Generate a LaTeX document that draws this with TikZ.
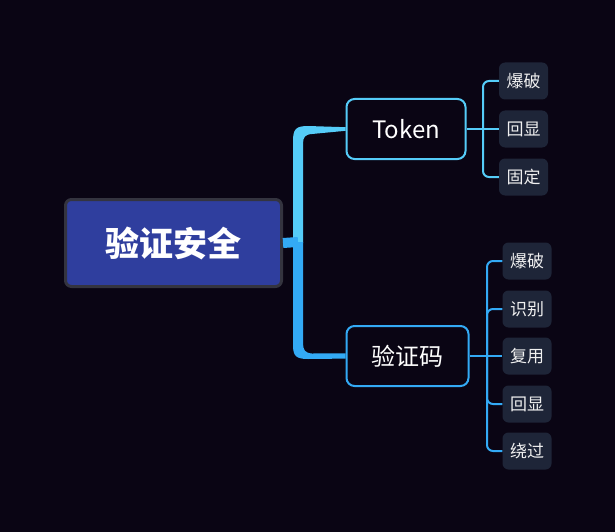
\documentclass[tikz,border=0pt]{standalone}
\usepackage{fontspec}
\setmainfont{Noto Sans CJK SC}
\usetikzlibrary{calc}
\definecolor{bg}{HTML}{0A0514}
\definecolor{rootfill}{HTML}{2F3E9E}
\definecolor{rootborder}{HTML}{34343F}
\definecolor{cyanA}{HTML}{55CCF8}
\definecolor{blueB}{HTML}{33AAF5}
\definecolor{leaffill}{HTML}{1E2538}
\begin{document}
\begin{tikzpicture}[x=1pt,y=-1pt,
  rootbox/.style={draw=rootborder,line width=3pt,fill=rootfill,rounded corners=6pt,
    minimum width=216pt,minimum height=87pt,inner sep=0pt,text=white,font=\fontsize{34}{38}\selectfont\bfseries},
  midbox/.style={line width=2pt,fill=bg,rounded corners=8pt,minimum height=60pt,inner sep=0pt,
    text=white,font=\fontsize{24}{28}\selectfont},
  leafbox/.style={fill=leaffill,rounded corners=6pt,minimum width=49pt,minimum height=37pt,inner sep=0pt,
    text=white!94!black,font=\fontsize{17}{20}\selectfont},
  twig/.style={line width=2pt,rounded corners=6pt}]
\fill[bg] (0,0) rectangle (615,532);
\useasboundingbox (0,0) rectangle (615,532);
% nodes
\node[rootbox] (root) at (173.5,243) {验证安全};
\node[midbox,draw=cyanA,minimum width=119pt] (tok) at (406,129) {Token};
\node[midbox,draw=blueB,minimum width=122pt] (cap) at (407.5,356) {验证码};
\node[leafbox] (t1) at (523.5,81) {爆破};
\node[leafbox] (t2) at (523.5,129) {回显};
\node[leafbox] (t3) at (523.5,177) {固定};
\node[leafbox] (c1) at (527,261) {爆破};
\node[leafbox] (c2) at (527,309) {识别};
\node[leafbox] (c3) at (527,356) {复用};
\node[leafbox] (c4) at (527,404) {回显};
\node[leafbox] (c5) at (527,451) {绕过};
% trunk
\coordinate (trunk) at (298,242);
\fill[cyanA] (293,243) -- (293,141) .. controls (293,129) and (296,126) .. (308,126)
  -- ($(tok.west)+(0,-1.8)$) -- ($(tok.west)+(0,1.8)$) -- (312,134)
  .. controls (305,134.5) and (303,137) .. (303,144) -- (303,243) -- cycle;
\fill[blueB] (293,242) -- (293,345) .. controls (293,356) and (296,359) .. (308,359)
  -- ($(cap.west)+(0,2.6)$) -- ($(cap.west)+(0,-2.6)$) -- (312,353.5)
  .. controls (305,353) and (303,350) .. (303,343) -- (303,242) -- cycle;
\draw[blueB,line width=10pt] (root.east) -- (trunk);
% token twigs
\coordinate (tb) at (483,129);
\draw[twig,cyanA] (tok.east) -- (tb);
\draw[twig,cyanA] (tb) |- (t1.west);
\draw[twig,cyanA] (tb) -- (t2.west);
\draw[twig,cyanA] (tb) |- (t3.west);
% captcha twigs
\coordinate (cb) at (487,356);
\draw[twig,blueB] (cap.east) -- (cb);
\draw[twig,blueB] (cb) |- (c1.west);
\draw[twig,blueB] (cb) |- (c2.west);
\draw[twig,blueB] (cb) -- (c3.west);
\draw[twig,blueB] (cb) |- (c4.west);
\draw[twig,blueB] (cb) |- (c5.west);
\end{tikzpicture}
\end{document}
